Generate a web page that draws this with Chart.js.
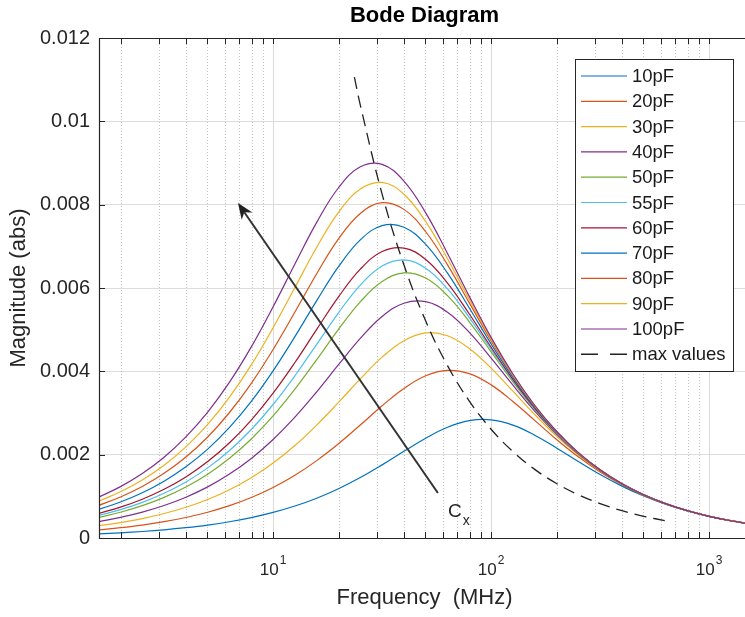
<!DOCTYPE html>
<html>
<head>
<meta charset="utf-8">
<title>Bode Diagram</title>
<script src="https://cdn.jsdelivr.net/npm/chart.js@4.4.1/dist/chart.umd.min.js"></script>
<style>
  html, body { margin: 0; padding: 0; background: #fff; overflow: hidden; }
  canvas { display: block; }
</style>
</head>
<body>
<canvas id="bode" width="750" height="617"></canvas>
<script>
// frequency grid (MHz), shared by all capacitance curves
const freqs = [1.585, 1.995, 2.512, 3.162, 3.981, 5.012, 6.310, 7.943, 10, 12.59, 15.85, 19.95,
  25.12, 31.62, 39.81, 50.12, 63.10, 79.43, 100, 125.9, 158.5, 199.5, 251.2, 316.2, 398.1,
  501.2, 631.0, 794.3, 1000, 1259, 1585];

const seriesNames = ['10pF', '20pF', '30pF', '40pF', '50pF', '55pF', '60pF', '70pF', '80pF', '90pF', '100pF'];

// magnitude (abs)
const mag10 = [0.000098, 0.000124, 0.000156, 0.000196, 0.000247, 0.000310, 0.000390, 0.000490, 0.000614, 0.000767, 0.000955, 0.001183, 0.001450, 0.001755, 0.002080, 0.002395, 0.002658, 0.002817, 0.002835, 0.002709, 0.002467, 0.002160, 0.001834, 0.001522, 0.001245, 0.001007, 0.000810, 0.000648, 0.000518, 0.000412, 0.000328];
const mag20 = [0.000197, 0.000248, 0.000311, 0.000392, 0.000492, 0.000618, 0.000776, 0.000972, 0.001213, 0.001506, 0.001857, 0.002262, 0.002712, 0.003172, 0.003589, 0.003895, 0.004024, 0.003944, 0.003675, 0.003277, 0.002822, 0.002366, 0.001948, 0.001584, 0.001278, 0.001024, 0.000819, 0.000653, 0.000520, 0.000413, 0.000329];
const mag30 = [0.000295, 0.000371, 0.000467, 0.000587, 0.000738, 0.000925, 0.001159, 0.001447, 0.001798, 0.002219, 0.002710, 0.003254, 0.003819, 0.004341, 0.004736, 0.004923, 0.004855, 0.004550, 0.004077, 0.003523, 0.002963, 0.002444, 0.001990, 0.001606, 0.001288, 0.001030, 0.000821, 0.000654, 0.000521, 0.000414, 0.000329];
const mag40 = [0.000392, 0.000493, 0.000620, 0.000780, 0.000979, 0.001227, 0.001534, 0.001910, 0.002365, 0.002901, 0.003509, 0.004159, 0.004791, 0.005316, 0.005634, 0.005671, 0.005418, 0.004935, 0.004319, 0.003667, 0.003045, 0.002490, 0.002015, 0.001621, 0.001297, 0.001035, 0.000825, 0.000656, 0.000522, 0.000415, 0.000330];
const mag50 = [0.000491, 0.000618, 0.000776, 0.000976, 0.001224, 0.001532, 0.001913, 0.002376, 0.002929, 0.003571, 0.004280, 0.005007, 0.005667, 0.006155, 0.006361, 0.006238, 0.005816, 0.005189, 0.004469, 0.003748, 0.003087, 0.002510, 0.002024, 0.001623, 0.001298, 0.001035, 0.000824, 0.000656, 0.000521, 0.000414, 0.000329];
const mag55 = [0.000540, 0.000680, 0.000854, 0.001073, 0.001345, 0.001683, 0.002099, 0.002604, 0.003204, 0.003894, 0.004648, 0.005405, 0.006071, 0.006528, 0.006674, 0.006475, 0.005977, 0.005291, 0.004528, 0.003782, 0.003105, 0.002519, 0.002029, 0.001626, 0.001299, 0.001035, 0.000824, 0.000656, 0.000521, 0.000414, 0.000329];
const mag60 = [0.000589, 0.000741, 0.000931, 0.001170, 0.001466, 0.001834, 0.002285, 0.002831, 0.003476, 0.004212, 0.005006, 0.005787, 0.006452, 0.006874, 0.006958, 0.006685, 0.006119, 0.005376, 0.004578, 0.003809, 0.003119, 0.002527, 0.002033, 0.001628, 0.001299, 0.001036, 0.000824, 0.000655, 0.000521, 0.000414, 0.000329];
const mag70 = [0.000687, 0.000864, 0.001086, 0.001363, 0.001708, 0.002133, 0.002654, 0.003279, 0.004012, 0.004833, 0.005696, 0.006511, 0.007154, 0.007498, 0.007458, 0.007045, 0.006355, 0.005520, 0.004659, 0.003854, 0.003143, 0.002539, 0.002039, 0.001631, 0.001301, 0.001036, 0.000825, 0.000656, 0.000521, 0.000414, 0.000329];
const mag80 = [0.000783, 0.000985, 0.001236, 0.001552, 0.001943, 0.002425, 0.003012, 0.003713, 0.004525, 0.005424, 0.006343, 0.007178, 0.007790, 0.008047, 0.007887, 0.007350, 0.006554, 0.005643, 0.004733, 0.003896, 0.003168, 0.002555, 0.002049, 0.001637, 0.001306, 0.001039, 0.000827, 0.000658, 0.000523, 0.000415, 0.000330];
const mag90 = [0.000883, 0.001110, 0.001394, 0.001748, 0.002187, 0.002726, 0.003381, 0.004155, 0.005046, 0.006012, 0.006978, 0.007815, 0.008375, 0.008533, 0.008249, 0.007591, 0.006701, 0.005725, 0.004774, 0.003916, 0.003176, 0.002556, 0.002047, 0.001636, 0.001304, 0.001037, 0.000825, 0.000656, 0.000522, 0.000414, 0.000329];
const mag100 = [0.000981, 0.001233, 0.001548, 0.001940, 0.002426, 0.003020, 0.003740, 0.004586, 0.005549, 0.006576, 0.007575, 0.008406, 0.008908, 0.008967, 0.008566, 0.007803, 0.006829, 0.005799, 0.004814, 0.003937, 0.003186, 0.002562, 0.002050, 0.001637, 0.001304, 0.001038, 0.000825, 0.000656, 0.000521, 0.000414, 0.000329];

// locus of the peaks ("max values")
const maxFreq = [23.6, 25.12, 31.62, 39.81, 50.12, 63.10, 79.43, 100, 125.9, 158.5, 199.5, 251.2, 316.2, 398.1, 501.2, 641];
const maxVals = [0.01106, 0.01039, 0.008254, 0.006556, 0.005208, 0.004136, 0.003286, 0.002610, 0.002073, 0.001647, 0.001308, 0.001039, 0.000825, 0.000656, 0.000521, 0.000407];

const yTicks = [0, 0.002, 0.004, 0.006, 0.008, 0.01, 0.012];
const xMajor = [10, 100, 1000];

// MATLAB default colour order
const colors = ['#0072BD', '#D95319', '#EDB120', '#7E2F8E', '#77AC30', '#4DBEEE', '#A2142F',
  '#0072BD', '#D95319', '#EDB120', '#7E2F8E'];

// arrow annotation (data coordinates) and its label
const arrowTail = { f: 57, v: 0.00108 };
const arrowHead = { f: 6.9, v: 0.00804 };
const cxLabel = { f: 63.5, v: 0.0005 };

const FONT = '"Liberation Sans", Arial, Helvetica, sans-serif';
const allMags = [mag10, mag20, mag30, mag40, mag50, mag55, mag60, mag70, mag80, mag90, mag100];

const datasets = allMags.map((arr, i) => ({
  label: seriesNames[i],
  data: freqs.map((f, j) => ({ x: f, y: arr[j] })),
  borderColor: colors[i],
  borderWidth: 1.2,
  pointRadius: 0,
  tension: 0.4,
  order: allMags.length - i + 1
}));
datasets.push({
  label: 'max values',
  data: maxFreq.map((f, j) => ({ x: f, y: maxVals[j] })),
  borderColor: '#222',
  borderWidth: 1.3,
  borderDash: [12, 7],
  pointRadius: 0,
  tension: 0.4,
  order: 0
});

const bodePlugin = {
  id: 'bode',
  beforeDatasetsDraw(chart) {
    const { ctx, chartArea: a, scales: { x } } = chart;
    ctx.save();
    ctx.lineWidth = 1;
    for (let n = 0; n <= 3; n++) {
      for (let d = 1; d <= 9; d++) {
        const f = d * Math.pow(10, n);
        if (f < x.min || f > x.max) continue;
        const px = Math.round(x.getPixelForValue(f)) + 0.5;
        ctx.strokeStyle = d === 1 ? '#dadada' : '#c4c4c4';
        ctx.setLineDash(d === 1 ? [] : [1, 2]);
        ctx.beginPath();
        ctx.moveTo(px, a.top);
        ctx.lineTo(px, a.bottom);
        ctx.stroke();
      }
    }
    ctx.restore();
  },
  afterDatasetsDraw(chart) {
    const { ctx, chartArea: a, scales: { x, y } } = chart;
    ctx.save();

    // axes box (right side is off the page)
    ctx.strokeStyle = '#262626';
    ctx.lineWidth = 1.2;
    ctx.setLineDash([]);
    ctx.beginPath();
    ctx.moveTo(a.right, a.top + 0.5);
    ctx.lineTo(a.left + 0.5, a.top + 0.5);
    ctx.lineTo(a.left + 0.5, a.bottom + 0.5);
    ctx.lineTo(a.right, a.bottom + 0.5);
    ctx.stroke();

    // inward ticks
    ctx.lineWidth = 1;
    ctx.beginPath();
    yTicks.forEach(v => {
      const py = Math.round(y.getPixelForValue(v)) + 0.5;
      ctx.moveTo(a.left, py);
      ctx.lineTo(a.left + 6, py);
    });
    for (let n = 0; n <= 3; n++) {
      for (let d = 1; d <= 9; d++) {
        const f = d * Math.pow(10, n);
        if (f < x.min || f > x.max) continue;
        const px = Math.round(x.getPixelForValue(f)) + 0.5;
        ctx.moveTo(px, a.bottom);
        ctx.lineTo(px, a.bottom - 6);
        ctx.moveTo(px, a.top);
        ctx.lineTo(px, a.top + 6);
      }
    }
    ctx.stroke();

    // x tick labels 10^n
    ctx.fillStyle = '#262626';
    ctx.textBaseline = 'middle';
    ctx.textAlign = 'left';
    xMajor.forEach(v => {
      const px = x.getPixelForValue(v);
      const exp = String(Math.round(Math.log10(v)));
      ctx.font = '17px ' + FONT;
      const wb = ctx.measureText('10').width;
      ctx.font = '12px ' + FONT;
      const we = ctx.measureText(exp).width;
      const left = px - (wb + we + 1) / 2;
      ctx.font = '17px ' + FONT;
      ctx.fillText('10', left, a.bottom + 32);
      ctx.font = '12px ' + FONT;
      ctx.fillText(exp, left + wb + 1, a.bottom + 23);
    });

    // arrow
    const x0 = x.getPixelForValue(arrowTail.f), y0 = y.getPixelForValue(arrowTail.v);
    const x1 = x.getPixelForValue(arrowHead.f), y1 = y.getPixelForValue(arrowHead.v);
    const ang = Math.atan2(y1 - y0, x1 - x0);
    const hl = 16, hw = 6.5;
    ctx.strokeStyle = '#333';
    ctx.fillStyle = '#222';
    ctx.lineWidth = 2;
    ctx.beginPath();
    ctx.moveTo(x0, y0);
    ctx.lineTo(x1 - Math.cos(ang) * hl * 0.7, y1 - Math.sin(ang) * hl * 0.7);
    ctx.stroke();
    ctx.beginPath();
    ctx.moveTo(x1, y1);
    ctx.lineTo(x1 - Math.cos(ang) * hl + Math.sin(ang) * hw, y1 - Math.sin(ang) * hl - Math.cos(ang) * hw);
    ctx.lineTo(x1 - Math.cos(ang) * hl * 0.7, y1 - Math.sin(ang) * hl * 0.7);
    ctx.lineTo(x1 - Math.cos(ang) * hl - Math.sin(ang) * hw, y1 - Math.sin(ang) * hl + Math.cos(ang) * hw);
    ctx.closePath();
    ctx.fill();

    // C_x label
    const lx = x.getPixelForValue(cxLabel.f), ly = y.getPixelForValue(cxLabel.v);
    ctx.fillStyle = '#262626';
    ctx.textBaseline = 'alphabetic';
    ctx.font = '19px ' + FONT;
    ctx.fillText('C', lx, ly);
    const wc = ctx.measureText('C').width;
    ctx.font = '14px ' + FONT;
    ctx.fillText('x', lx + wc + 1, ly + 8);

    // legend
    const bx = a.right - 175, by = a.top + 21, bw = 158, bh = 312;
    ctx.fillStyle = '#fff';
    ctx.fillRect(bx, by, bw, bh);
    ctx.strokeStyle = '#262626';
    ctx.lineWidth = 1;
    ctx.strokeRect(bx + 0.5, by + 0.5, bw, bh);
    ctx.font = '18.5px ' + FONT;
    ctx.textBaseline = 'middle';
    chart.data.datasets.forEach((ds, i) => {
      const ry = by + 17 + i * 25.3;
      ctx.strokeStyle = ds.borderColor;
      ctx.lineWidth = ds.borderDash ? 1.4 : 1.2;
      ctx.setLineDash(ds.borderDash ? [17, 12] : []);
      ctx.beginPath();
      ctx.moveTo(bx + 6, ry);
      ctx.lineTo(bx + 52, ry);
      ctx.stroke();
      ctx.setLineDash([]);
      ctx.fillStyle = '#1a1a1a';
      ctx.fillText(ds.label, bx + 57, ry + 1);
    });

    // title and axis labels
    const cx = (a.left + a.right) / 2;
    ctx.fillStyle = '#000';
    ctx.textAlign = 'center';
    ctx.font = 'bold 22px ' + FONT;
    ctx.fillText('Bode Diagram', cx, 16);
    ctx.fillStyle = '#262626';
    ctx.font = '22px ' + FONT;
    ctx.fillText('Frequency  (MHz)', cx, 598);
    ctx.translate(19, (a.top + a.bottom) / 2);
    ctx.rotate(-Math.PI / 2);
    ctx.fillText('Magnitude (abs)', 0, 0);
    ctx.restore();
  }
};

new Chart(document.getElementById('bode'), {
  type: 'line',
  data: { datasets: datasets },
  options: {
    responsive: false,
    animation: false,
    events: [],
    layout: { padding: { top: 38, left: 0, right: 0, bottom: 0 } },
    plugins: {
      legend: { display: false },
      title: { display: false },
      tooltip: { enabled: false }
    },
    scales: {
      x: {
        type: 'logarithmic',
        min: 1.59,
        max: 1540,
        ticks: { display: false },
        grid: { display: false },
        border: { display: false },
        afterFit(scale) { scale.height = 79; }
      },
      y: {
        min: 0,
        max: 0.012,
        afterBuildTicks(scale) { scale.ticks = yTicks.map(v => ({ value: v })); },
        ticks: {
          padding: 9,
          color: '#262626',
          font: { family: FONT, size: 20 },
          callback: v => String(+Number(v).toFixed(3))
        },
        grid: { color: '#dcdcdc', lineWidth: 1, drawTicks: false },
        border: { display: false },
        afterFit(scale) { scale.width = 99; }
      }
    }
  },
  plugins: [bodePlugin]
});
</script>
</body>
</html>
